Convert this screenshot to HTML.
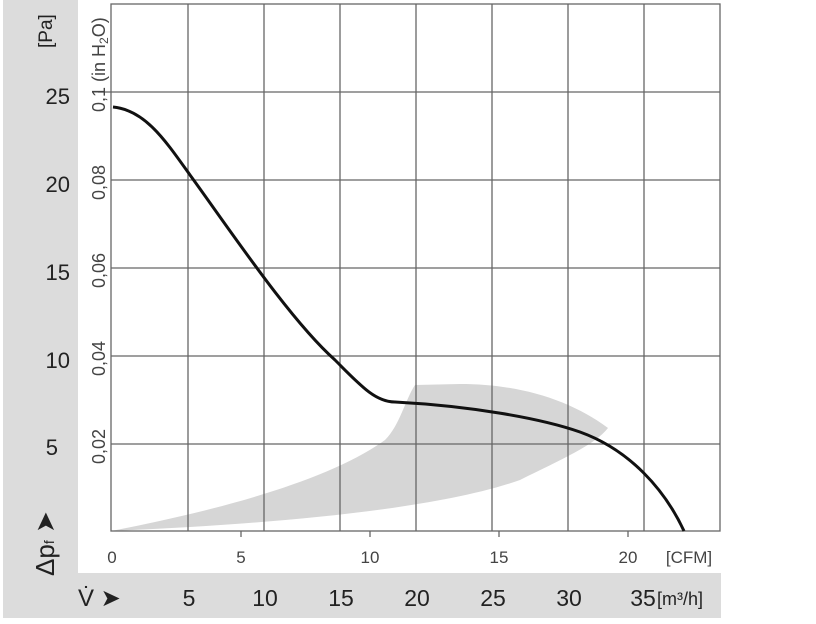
<!DOCTYPE html>
<html><head><style>
body{margin:0;background:#fff;width:816px;height:624px;overflow:hidden}
svg{display:block}
text{font-family:"Liberation Sans",sans-serif}
</style></head><body>
<svg width="816" height="624" viewBox="0 0 816 624">
<rect x="3" y="0" width="75" height="618" fill="#dcdcdc"/>
<rect x="3" y="573" width="718" height="45" fill="#dcdcdc"/>
<path d="M111,531 C220,510 330,480 385,440 C400,425 405,400 415,385 L460,384 C520,384 570,400 608,428 C595,445 560,460 520,480 C430,512 250,525 111,531 Z" fill="#d6d6d6"/>
<g stroke="#666" stroke-width="1.3" fill="none">
<rect x="111" y="4" width="609" height="527"/>
<path d="M188,4V531M264,4V531M340,4V531M416,4V531M492,4V531M568,4V531M644,4V531"/>
<path d="M111,92H720M111,180H720M111,268H720M111,356H720M111,444H720"/>
<path d="M241,531v6M370,531v6M499,531v6M628,531v6"/>
<path d="M98,92H111"/>
</g>
<path d="M113,107 C145,110 165,140 190,175 C230,230 290,320 335,360 C360,385 375,402 395,402 C470,406 540,418 580,432 C630,450 665,490 684,531" stroke="#111" stroke-width="3" fill="none"/>
<g font-size="22" fill="#222" text-anchor="end">
<text x="70" y="104">25</text><text x="70" y="192">20</text><text x="70" y="280">15</text><text x="70" y="368">10</text><text x="58" y="455">5</text>
</g>
<text transform="translate(52,48) rotate(-90)" font-size="19" fill="#222">[Pa]</text>
<g font-size="18" fill="#444">
<text transform="translate(105,112) rotate(-90)">0,1 (in H<tspan font-size="12" dy="3">2</tspan><tspan dy="-3">O)</tspan></text>
<text transform="translate(105,200) rotate(-90)">0,08</text>
<text transform="translate(105,288) rotate(-90)">0,06</text>
<text transform="translate(105,376) rotate(-90)">0,04</text>
<text transform="translate(105,464) rotate(-90)">0,02</text>
</g>
<text transform="translate(54,576) rotate(-90)" font-size="26" fill="#222">Δp<tspan font-size="14">f</tspan> ➤</text>
<g font-size="17" fill="#444" text-anchor="middle">
<text x="112" y="563">0</text><text x="241" y="563">5</text><text x="370" y="563">10</text><text x="499" y="563">15</text><text x="628" y="563">20</text>
<text x="689" y="563">[CFM]</text>
</g>
<text x="78" y="606" font-size="24" fill="#222">V̇ ➤</text>
<g font-size="23" fill="#222" text-anchor="middle">
<text x="189" y="606">5</text><text x="265" y="606">10</text><text x="341" y="606">15</text><text x="417" y="606">20</text><text x="493" y="606">25</text><text x="569" y="606">30</text><text x="643" y="606">35</text>
</g>
<text x="657" y="605" font-size="18" fill="#222">[m³/h]</text>
</svg>
</body></html>
